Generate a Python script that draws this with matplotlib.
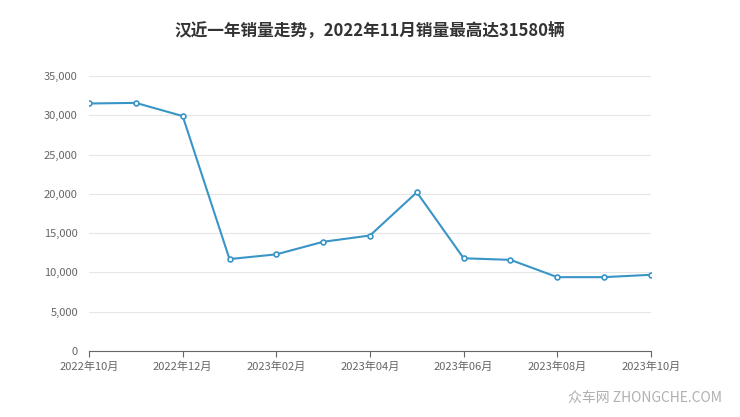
import matplotlib
matplotlib.use("Agg")
import matplotlib.pyplot as plt

plt.rcParams['font.family'] = ['Noto Sans CJK SC', 'DejaVu Sans']

months = ["2022年10月", "2022年11月", "2022年12月", "2023年01月", "2023年02月",
          "2023年03月", "2023年04月", "2023年05月", "2023年06月", "2023年07月",
          "2023年08月", "2023年09月", "2023年10月"]
sales = [31500, 31580, 29900, 11700, 12300, 13900, 14700, 20200, 11800, 11600,
         9400, 9400, 9700]
yticks = [0, 5000, 10000, 15000, 20000, 25000, 30000, 35000]

LINE = "#3a95c7"
GRID = "#e6e6e6"
TXT = "#666666"

fig = plt.figure(figsize=(7.4, 4.17), dpi=100, facecolor="white")
ax = fig.add_axes([89/740, 1 - 351/417, (651-89)/740, (351-76)/417])

x = list(range(len(months)))
ax.plot(x, sales, color=LINE, lw=1.5, marker="o", ms=3.5,
        mfc="white", mec=LINE, mew=1.2, zorder=3)

ax.set_xlim(0, len(months) - 1)
ax.set_ylim(0, 35000)
ax.set_yticks(yticks)
ax.set_yticklabels([f"{v:,}" for v in yticks])
ax.set_xticks(x[::2])
ax.set_xticklabels(months[::2])
ax.grid(axis="y", color=GRID, lw=0.8)
ax.tick_params(axis="y", length=0, labelsize=8, labelcolor=TXT, pad=8)
ax.tick_params(axis="x", length=4, color="#666666",
               labelsize=8, labelcolor=TXT)
for s in ["top", "right", "left"]:
    ax.spines[s].set_visible(False)
ax.spines["bottom"].set_color("#666666")

fig.text(0.5, 1 - 32/417, "汉近一年销量走势，2022年11月销量最高达31580辆",
         ha="center", va="center", fontsize=12, fontweight="bold", color="#333333")
fig.text(0.975, 1 - 398/417, "众车网 ZHONGCHE.COM", ha="right", va="center",
         fontsize=10, color="#b0b0b0")

fig.savefig("out.png", dpi=100, facecolor="white")
